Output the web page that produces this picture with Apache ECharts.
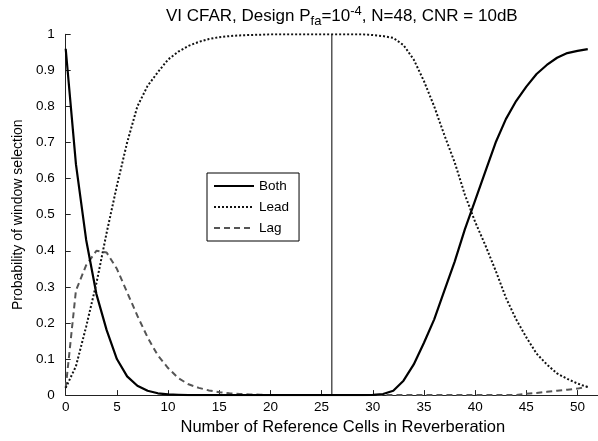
<!DOCTYPE html>
<html>
<head>
<meta charset="utf-8">
<script src="https://cdn.jsdelivr.net/npm/echarts@6/dist/echarts.min.js"></script>
<style>
html,body{margin:0;padding:0;background:#fff;}
#chart{width:598px;height:441px;}
</style>
</head>
<body>
<div id="chart"></div>
<script>
const cells = [0,1,2,3,4,5,6,7,8,9,10,11,12,13,14,15,16,17,18,19,20,21,22,23,24,25,26,27,28,29,30,31,32,33,34,35,36,37,38,39,40,41,42,43,44,45,46,47,48,49,50,51];
const both = [0.96,0.64,0.43,0.28,0.18,0.10,0.052,0.026,0.012,0.005,0.002,0.001,0,0,0,0,0,0,0,0,0,0,0,0,0,0,0,0,0,0,0.0005,0.003,0.012,0.04,0.085,0.145,0.21,0.29,0.37,0.46,0.54,0.62,0.70,0.765,0.815,0.855,0.89,0.915,0.935,0.948,0.954,0.959];
const lead = [0.02,0.08,0.19,0.31,0.45,0.58,0.70,0.80,0.857,0.895,0.93,0.952,0.968,0.979,0.987,0.992,0.995,0.997,0.998,0.999,1,1,1,1,1,1,1,1,1,1,0.998,0.995,0.99,0.97,0.93,0.87,0.80,0.72,0.645,0.555,0.48,0.415,0.345,0.27,0.21,0.16,0.115,0.085,0.06,0.045,0.032,0.022];
const lag = [0.02,0.29,0.36,0.40,0.395,0.35,0.285,0.22,0.16,0.11,0.075,0.047,0.03,0.02,0.013,0.008,0.005,0.003,0.002,0.001,0,0,0,0,0,0,0,0,0,0,0,0,0,0,0,0,0,0,0,0,0,0,0,0,0,0.004,0.006,0.009,0.012,0.015,0.018,0.024];
const markerX = 26;
const markerY = [0, 1];
const seriesNames = ['Both','Lead','Lag'];
const xTicks = {min:0, max:52, interval:5};
const yTicks = {min:0, max:1, interval:0.1};

const pairs = arr => cells.map((c,i)=>[c, arr[i]]);
const font = 'Liberation Sans, Arial, Helvetica, sans-serif';

const chart = echarts.init(document.getElementById('chart'), null, {renderer:'canvas'});
chart.setOption({
  animation:false,
  backgroundColor:'#fff',
  title:{
    text:'{a|VI CFAR, Design P}{sub|fa}{a|=10}{sup|-4}{a|, N=48, CNR = 10dB}',
    left:161, top:0,
    textStyle:{
      fontFamily:font, fontSize:17, fontWeight:'normal', color:'#000',
      rich:{
        a:{fontFamily:font, fontSize:17, color:'#000', lineHeight:23, verticalAlign:'middle'},
        sub:{fontFamily:font, fontSize:13, color:'#000', lineHeight:23, verticalAlign:'bottom'},
        sup:{fontFamily:font, fontSize:13, color:'#000', lineHeight:23, verticalAlign:'top'}
      }
    }
  },
  legend:{
    data:seriesNames,
    orient:'vertical',
    left:207, top:173,
    itemWidth:40, itemHeight:14, itemGap:7,
    padding:[6,10,6,6],
    borderColor:'#000', borderWidth:1,
    backgroundColor:'#fff',
    itemStyle:{opacity:0},
    textStyle:{fontFamily:font, fontSize:13.5, color:'#000'}
  },
  grid:{left:65.7, right:-2.8, top:34.3, bottom:40.7, containLabel:false},
  xAxis:{
    type:'value', min:xTicks.min, max:xTicks.max, interval:xTicks.interval,
    name:'Number of Reference Cells in Reverberation',
    nameLocation:'middle', nameGap:21,
    nameTextStyle:{fontFamily:font, fontSize:16.5, color:'#000', padding:[0,0,0,22]},
    axisLine:{lineStyle:{color:'#222', width:1}},
    axisTick:{inside:true, length:5, lineStyle:{color:'#222'}},
    axisLabel:{fontFamily:font, fontSize:13.5, color:'#000', margin:5, showMaxLabel:false},
    splitLine:{show:false}
  },
  yAxis:{
    type:'value', min:yTicks.min, max:yTicks.max, interval:yTicks.interval,
    name:'Probability of window selection',
    nameLocation:'middle', nameGap:40,
    nameTextStyle:{fontFamily:font, fontSize:14, color:'#000'},
    axisLine:{show:true, lineStyle:{color:'#222', width:1}},
    axisTick:{show:true, inside:true, length:5, lineStyle:{color:'#222'}},
    axisLabel:{fontFamily:font, fontSize:13.5, color:'#000', margin:11,
      formatter:v=>String(Math.round(v*10)/10)},
    splitLine:{show:false}
  },
  series:[
    {name:'Marker', type:'line', data:markerY.map(y=>[markerX,y]), symbol:'none',
     lineStyle:{color:'#000', width:1}, silent:true, z:1},
    {name:'Both', type:'line', data:pairs(both), symbol:'none',
     lineStyle:{color:'#000', width:2.2, type:'solid'}, itemStyle:{color:'#000'}, z:3},
    {name:'Lead', type:'line', data:pairs(lead), symbol:'none',
     lineStyle:{color:'#111', width:2, type:[2,2]}, itemStyle:{color:'#111'}, z:3},
    {name:'Lag', type:'line', data:pairs(lag), symbol:'none',
     lineStyle:{color:'#555', width:2, type:[6,4]}, itemStyle:{color:'#555'}, z:2}
  ]
});
</script>
</body>
</html>
